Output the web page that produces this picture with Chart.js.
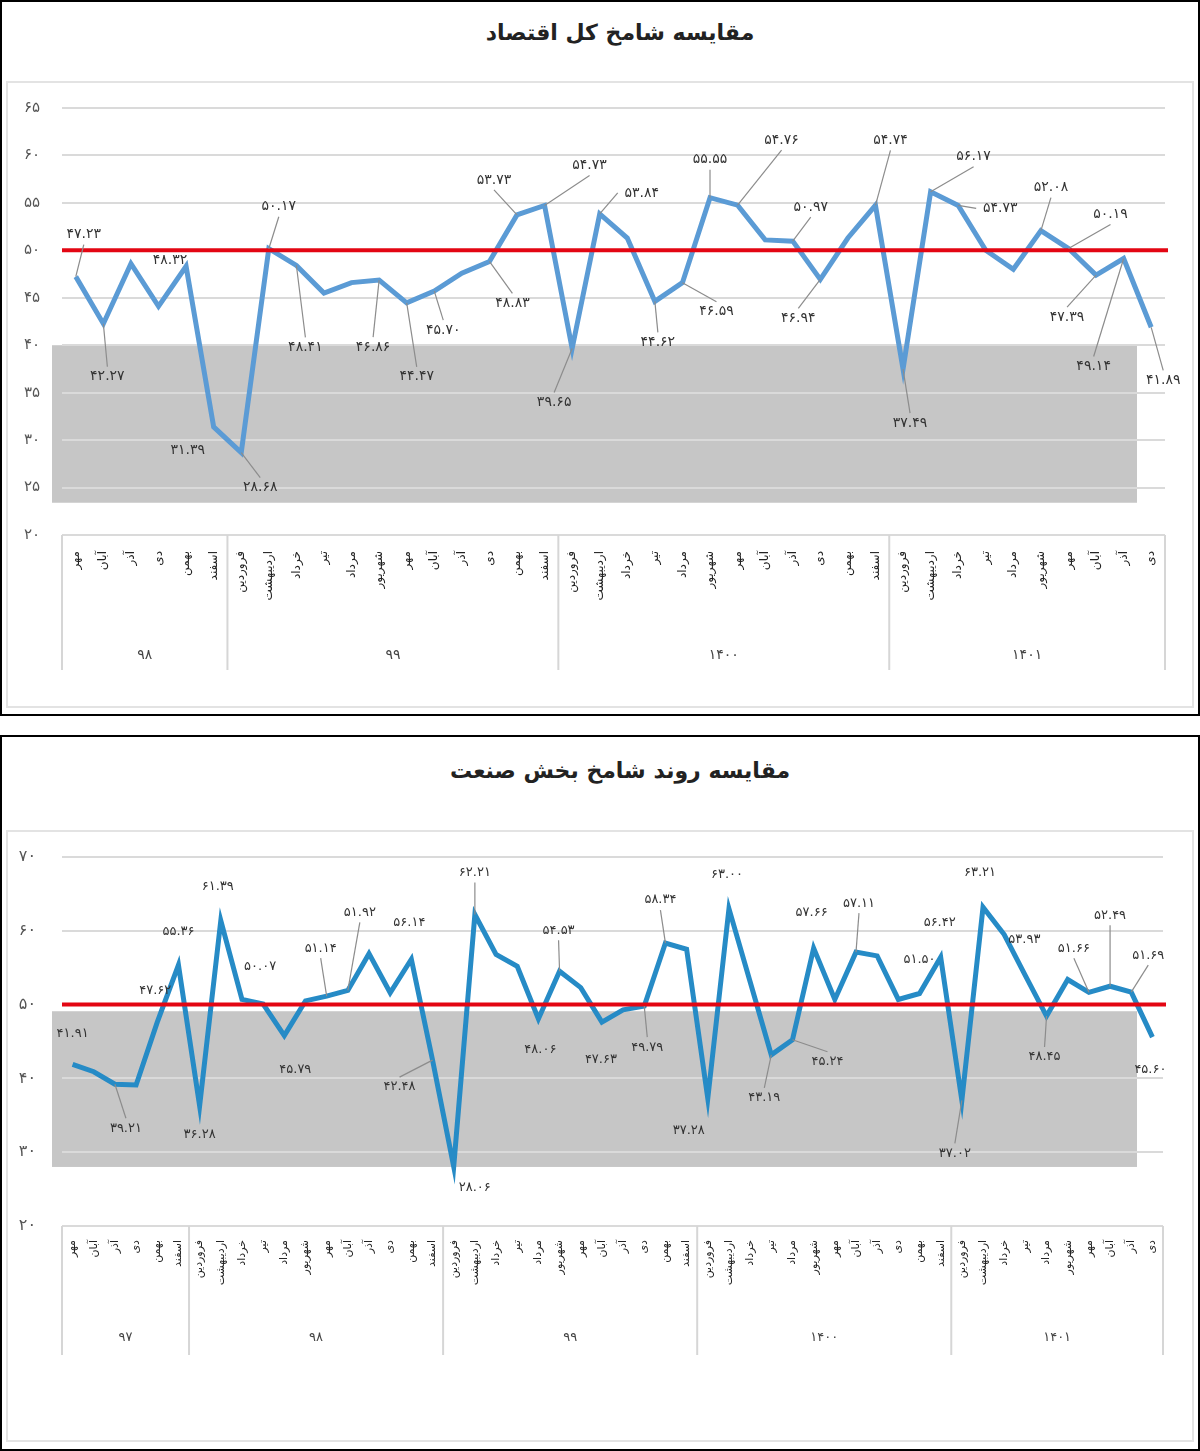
<!DOCTYPE html>
<html lang="fa">
<head>
<meta charset="utf-8">
<script src="https://cdn.jsdelivr.net/npm/chart.js@4.4.1/dist/chart.umd.min.js"></script>
<style>
  body { margin: 0; background: #fff; width: 1200px; height: 1451px; position: relative; font-family: 'DejaVu Sans', sans-serif; }
  .frame { position: absolute; left: 0; width: 1200px; height: 716px; box-sizing: border-box; border: 2px solid #000; }
  .panel { position: absolute; left: 6px; width: 1188px; box-sizing: border-box; border: 2px solid #e3e3e3; }
  .title { position: absolute; left: 0; width: 1240px; text-align: center; font-weight: bold; font-size: 22px; color: #222; direction: rtl; }
  canvas { position: absolute; left: 0; }
</style>
</head>
<body>
<div class="frame" style="top:0"></div>
<div class="panel" style="top:81px;height:627px"></div>
<div class="title" style="top:20px">مقایسه شامخ کل اقتصاد</div>
<canvas id="econ" width="1200" height="716" style="top:0"></canvas>

<div class="frame" style="top:735px"></div>
<div class="panel" style="top:830px;height:612px"></div>
<div class="title" style="top:758px">مقایسه روند شامخ بخش صنعت</div>
<canvas id="industry" width="1200" height="716" style="top:735px"></canvas>

<script>
const MONTHS = ['فروردین', 'اردیبهشت', 'خرداد', 'تیر', 'مرداد', 'شهریور', 'مهر', 'آبان', 'آذر', 'دی', 'بهمن', 'اسفند'];
const THRESHOLD = 50;

// شامخ کل اقتصاد: مهر ۹۸ تا دی ۱۴۰۱
const econYears = ['۹۸', '۹۹', '۱۴۰۰', '۱۴۰۱'];
const econYearMonths = [6, 12, 12, 10];
const econMonths = [...MONTHS.slice(6), ...MONTHS, ...MONTHS, ...MONTHS.slice(0, 10)];
const econValues = [
  47.23, 42.27, 48.6, 44.1, 48.32, 31.39, 28.68, 50.17, 48.41, 45.5,
  46.6, 46.86, 44.47, 45.70, 47.6, 48.83, 53.73, 54.73, 39.65, 53.84,
  51.3, 44.62, 46.59, 55.55, 54.76, 51.1, 50.97, 46.94, 51.3, 54.74,
  37.49, 56.17, 54.73, 50.0, 48.0, 52.08, 50.19, 47.39, 49.14, 41.89
];
const econLabelled = [0, 1, 4, 5, 6, 7, 8, 11, 12, 13, 15, 16, 17, 18, 19, 21, 22, 23, 24, 26, 27, 29, 30, 31, 32, 35, 36, 37, 38, 39];

// شامخ بخش صنعت: مهر ۹۷ تا دی ۱۴۰۱
const industryYears = ['۹۷', '۹۸', '۹۹', '۱۴۰۰', '۱۴۰۱'];
const industryYearMonths = [6, 12, 12, 12, 10];
const industryMonths = [...MONTHS.slice(6), ...MONTHS, ...MONTHS, ...MONTHS, ...MONTHS.slice(0, 10)];
const industryValues = [
  41.91, 40.9, 39.21, 39.1, 47.62, 55.36, 36.28, 61.39, 50.7, 50.07,
  45.79, 50.5, 51.14, 51.92, 56.9, 51.6, 56.14, 42.48, 28.06, 62.21,
  56.8, 55.2, 48.06, 54.53, 52.3, 47.63, 49.3, 49.79, 58.34, 57.5,
  37.28, 63.00, 53.1, 43.19, 45.24, 57.66, 50.7, 57.11, 56.6, 50.7,
  51.50, 56.42, 37.02, 63.21, 59.5, 53.93, 48.45, 53.4, 51.66, 52.49,
  51.69, 45.60
];
const industryLabelled = [0, 2, 4, 5, 6, 7, 9, 10, 12, 13, 16, 17, 18, 19, 22, 23, 25, 27, 28, 30, 31, 33, 34, 35, 37, 40, 41, 42, 43, 45, 46, 48, 49, 50, 51];

// where each value label sits relative to its point (px), same order as the labelled lists
const econLabelOffsets = [
  [8, -42], [4, 53], [-16, -6], [-26, 23], [19, 35], [10, -42], [9, 82], [-6, 67], [10, 74], [9, 39],
  [23, 42], [-23, -35], [45, -40], [-18, 54], [42, -21], [3, 41], [34, 29], [0, -38], [44, -65], [18, -34],
  [-22, 39], [15, -65], [7, 54], [43, -35], [42, 3], [10, -43], [42, -34], [-29, 42], [-30, 108], [12, 53]
];
const industryLabelOffsets = [
  [0, -31], [11, 44], [-2, -32], [0, -33], [0, 29], [-3, -34], [-3, -37], [11, 34], [-6, -48], [12, -78],
  [-2, -37], [-33, 27], [21, 21], [0, -42], [2, 31], [-1, -41], [-1, 38], [3, 41], [-5, -43], [-19, 32],
  [-2, -34], [-7, 43], [35, 22], [-2, -35], [3, -49], [0, -34], [-1, -35], [-7, 53], [-3, -34], [-1, -36],
  [-2, 41], [-15, -44], [0, -71], [17, -37], [-2, 33]
];

const fa = s => String(s).replace(/\d/g, d => '۰۱۲۳۴۵۶۷۸۹'[d]);

function buildChart(id, o) {
  const decor = {
    id: 'decor',
    beforeDraw(chart) {
      // grey box behind the lower part of the plot
      const { ctx } = chart;
      const y = chart.scales.y;
      ctx.save();
      ctx.fillStyle = '#c6c6c6';
      const top = y.getPixelForValue(o.band[0]);
      ctx.fillRect(o.bandX[0], top, o.bandX[1] - o.bandX[0], y.getPixelForValue(o.band[1]) - top);
      ctx.restore();
    },
    afterDatasetsDraw(chart) {
      const { ctx, chartArea } = chart;
      const y = chart.scales.y;
      const meta = chart.getDatasetMeta(0);
      ctx.save();
      // 50 line
      const y50 = y.getPixelForValue(THRESHOLD);
      ctx.strokeStyle = '#e30613';
      ctx.lineWidth = 4;
      ctx.beginPath();
      ctx.moveTo(chartArea.left, y50);
      ctx.lineTo(chartArea.right + 3, y50);
      ctx.stroke();

      // value labels with leader lines
      ctx.font = o.labelFont;
      ctx.fillStyle = '#333';
      ctx.textAlign = 'center';
      ctx.textBaseline = 'middle';
      ctx.direction = 'ltr';
      o.labelled.forEach((idx, k) => {
        const p = meta.data[idx];
        const [dx, dy] = o.offsets[k];
        const lx = p.x + dx, ly = p.y + dy;
        if (Math.hypot(dx, dy) > o.leaderMin) {
          let ex = lx, ey = ly;
          if (Math.abs(dy) >= Math.abs(dx) * 0.6) ey = ly - Math.sign(dy) * 10;
          else ex = lx - Math.sign(dx) * 24;
          ctx.strokeStyle = '#8c8c8c';
          ctx.lineWidth = 1.2;
          ctx.beginPath();
          ctx.moveTo(p.x, p.y);
          ctx.lineTo(ex, ey);
          ctx.stroke();
        }
        ctx.fillText(fa(o.values[idx].toFixed(2)), lx, ly);
      });
      ctx.restore();
    },
    afterDraw(chart) {
      // year row under the month labels
      const { ctx, chartArea } = chart;
      const x = chart.scales.x;
      const step = x.getPixelForValue(1) - x.getPixelForValue(0);
      ctx.save();
      ctx.strokeStyle = '#d6d6d6';
      ctx.lineWidth = 2;
      ctx.fillStyle = '#444';
      ctx.font = o.yearFont;
      ctx.textAlign = 'center';
      ctx.textBaseline = 'middle';
      let start = 0;
      const edges = [x.getPixelForValue(0) - step / 2];
      o.yearMonths.forEach((n, g) => {
        const left = x.getPixelForValue(start) - step / 2;
        const right = x.getPixelForValue(start + n - 1) + step / 2;
        edges.push(right);
        ctx.fillText(o.years[g], (left + right) / 2, chartArea.bottom + o.yearDrop);
        start += n;
      });
      edges.forEach(e => {
        ctx.beginPath();
        ctx.moveTo(e, chartArea.bottom);
        ctx.lineTo(e, chartArea.bottom + o.dividerLen);
        ctx.stroke();
      });
      ctx.restore();
    }
  };

  return new Chart(document.getElementById(id), {
    type: 'line',
    data: {
      labels: o.months,
      datasets: [{
        data: o.values,
        borderColor: o.color,
        borderWidth: 5,
        pointRadius: 0,
        tension: 0,
        fill: false
      }]
    },
    options: {
      responsive: false,
      animation: false,
      devicePixelRatio: 1,
      layout: { padding: { top: o.padTop, right: o.padRight, left: 0, bottom: 0 } },
      plugins: { legend: { display: false }, tooltip: { enabled: false }, title: { display: false } },
      scales: {
        x: {
          offset: true,
          grid: { display: false },
          border: { display: false },
          ticks: {
            autoSkip: false, minRotation: 90, maxRotation: 90, padding: o.tickPad,
            color: '#222', font: { family: 'DejaVu Sans', size: o.monthSize }
          },
          afterFit: s => { s.height = o.xHeight; }
        },
        y: {
          min: o.yMin, max: o.yMax,
          border: { display: false },
          grid: { color: '#dadada', lineWidth: 2, drawTicks: false },
          ticks: {
            stepSize: o.yStep, padding: o.yPad, color: '#555',
            font: { family: 'DejaVu Sans', size: o.ySize },
            callback: v => fa(v)
          },
          afterFit: s => { s.width = 62; }
        }
      }
    },
    plugins: [decor]
  });
}

buildChart('econ', {
  months: econMonths, values: econValues, years: econYears, yearMonths: econYearMonths,
  labelled: econLabelled, offsets: econLabelOffsets,
  color: '#5b9bd5', yMin: 20, yMax: 65, yStep: 5,
  band: [40, 23.4], bandX: [52, 1137],
  padTop: 108, padRight: 35, xHeight: 181, tickPad: 8,
  monthSize: 12, ySize: 15, yPad: 22, leaderMin: 36,
  labelFont: '14px "DejaVu Sans"', yearFont: '14px "DejaVu Sans"',
  yearDrop: 120, dividerLen: 135
});

buildChart('industry', {
  months: industryMonths, values: industryValues, years: industryYears, yearMonths: industryYearMonths,
  labelled: industryLabelled, offsets: industryLabelOffsets,
  color: '#268bc6', yMin: 20, yMax: 70, yStep: 10,
  band: [49.1, 28.0], bandX: [52, 1137],
  padTop: 122, padRight: 37, xHeight: 225, tickPad: 6,
  monthSize: 11, ySize: 16, yPad: 26, leaderMin: 40,
  labelFont: '13px "DejaVu Sans"', yearFont: '13px "DejaVu Sans"',
  yearDrop: 112, dividerLen: 129
});
</script>
</body>
</html>
